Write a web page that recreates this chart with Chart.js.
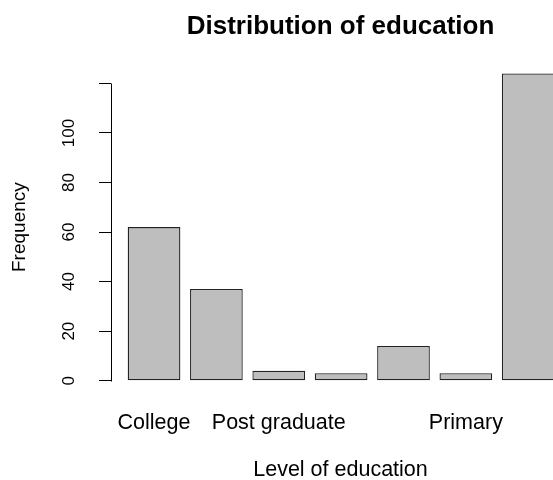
<!DOCTYPE html>
<html lang="en">
<head>
<meta charset="UTF-8">
<title>Distribution of education</title>
<script src="https://cdn.jsdelivr.net/npm/chart.js@4.4.0/dist/chart.umd.min.js"></script>
<style>
  html, body { margin: 0; padding: 0; background: #fff; overflow: hidden; }
  canvas { display: block; }
</style>
</head>
<body>
<canvas id="eduChart" width="627" height="480"></canvas>
<script>
// education levels in factor order; only some names fit under the bars
const categories = ['College', 'Graduate', 'Post graduate', 'Pre-primary', 'Pre-university', 'Primary', 'Secondary'];
const frequencies = [62, 37, 4, 3, 14, 3, 124];
const xTickLabels = ['College', '', 'Post graduate', '', '', 'Primary', ''];
const yTicks = [0, 20, 40, 60, 80, 100, 120];
const yTickLabels = ['0', '20', '40', '60', '80', '100', ''];

const FONT = "'Liberation Sans', Arial, sans-serif";

// R draws the y axis line only from the first to the last tick
const yAxisLine = {
    id: 'yAxisLine',
    afterDraw(chart) {
        const ys = chart.scales.y;
        const ctx = chart.ctx;
        const x = Math.round(chart.chartArea.left) + 0.5;
        ctx.save();
        ctx.strokeStyle = '#000';
        ctx.lineWidth = 1;
        ctx.beginPath();
        ctx.moveTo(x, Math.round(ys.getPixelForValue(yTicks[0])) + 0.5);
        ctx.lineTo(x, Math.round(ys.getPixelForValue(yTicks[yTicks.length - 1])) + 0.5);
        ctx.stroke();
        ctx.restore();
    }
};

const ctx = document.getElementById('eduChart').getContext('2d');
const eduChart = new Chart(ctx, {
    type: 'bar',
    data: {
        labels: categories,
        datasets: [{
            label: 'Frequency',
            data: categories.map((c, i) => ({ x: i, y: frequencies[i] })),
            backgroundColor: '#BEBEBE',
            borderColor: '#222',
            borderWidth: 1.3,
            borderSkipped: false,
            barPercentage: 0.845,
            categoryPercentage: 1
        }]
    },
    options: {
        responsive: false,
        devicePixelRatio: 1,
        animation: false,
        layout: { padding: { left: 0, right: 57, top: 0, bottom: 0 } },
        plugins: {
            legend: { display: false },
            tooltip: { enabled: false },
            title: {
                display: true,
                text: 'Distribution of education',
                fullSize: false,
                color: '#000',
                font: { family: FONT, size: 26, weight: 'bold', lineHeight: 1.2 },
                padding: { top: 11, bottom: 19 }
            }
        },
        scales: {
            x: {
                type: 'linear',
                offset: false,
                min: -0.69,
                max: 6.67,
                afterBuildTicks: (s) => { s.ticks = categories.map((c, i) => ({ value: i })); },
                afterFit: (s) => { s.height = 87; },
                grid: { display: false, drawTicks: false },
                border: { display: false },
                ticks: {
                    autoSkip: false,
                    maxRotation: 0,
                    padding: 17,
                    color: '#000',
                    font: { family: FONT, size: 21.5 },
                    callback: (v, i) => xTickLabels[i]
                },
                title: {
                    display: true,
                    text: 'Level of education',
                    color: '#000',
                    font: { family: FONT, size: 21.5, lineHeight: 0.9 },
                    padding: { top: 0, bottom: 0 }
                }
            },
            y: {
                min: -4.96,
                max: 128.96,
                afterBuildTicks: (s) => { s.ticks = yTicks.map(v => ({ value: v })); },
                afterFit: (s) => { s.width = 111; },
                grid: {
                    drawOnChartArea: false,
                    drawTicks: true,
                    tickLength: 12,
                    color: '#000'
                },
                border: { display: false },
                ticks: {
                    minRotation: 90,
                    maxRotation: 90,
                    crossAlign: 'center',
                    padding: 16,
                    color: '#000',
                    font: { family: FONT, size: 17 },
                    callback: (v, i) => yTickLabels[i]
                },
                title: {
                    display: true,
                    text: 'Frequency',
                    color: '#000',
                    font: { family: FONT, size: 19, lineHeight: 1.2 },
                    padding: { top: 8, bottom: 0 }
                }
            }
        }
    },
    plugins: [yAxisLine]
});
</script>
</body>
</html>
